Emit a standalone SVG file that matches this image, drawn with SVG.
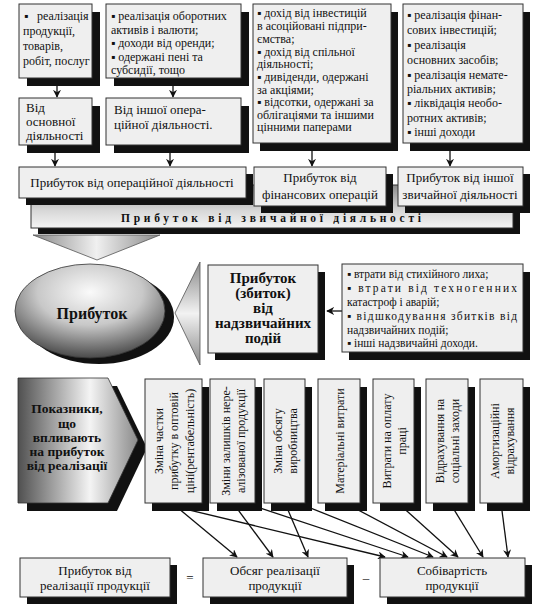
<svg xmlns="http://www.w3.org/2000/svg" width="536" height="609" viewBox="0 0 536 609">
<defs>
<style>
text{font-family:"Liberation Serif","Times New Roman",serif;fill:#111;}
.bx{fill:#efefef;stroke:#333;stroke-width:1;}
.sh{fill:#111;}
.t12{font-size:12px;}
.t13{font-size:13px;}
.c{text-anchor:middle;}
.b{font-weight:bold;}
.ln{stroke:#111;stroke-width:1.3;fill:none;marker-end:url(#ah);}
</style>
<marker id="ah" viewBox="0 0 10 10" refX="9" refY="5" markerWidth="8" markerHeight="8" markerUnits="userSpaceOnUse" orient="auto">
<path d="M0,0 L10,5 L0,10 L3,5 z" fill="#111"/>
</marker>
<linearGradient id="barG" x1="0" y1="0" x2="0" y2="1">
<stop offset="0" stop-color="#8c8c8c"/><stop offset="0.6" stop-color="#d8d8d8"/><stop offset="1" stop-color="#f4f4f4"/>
</linearGradient>
<linearGradient id="funG" x1="0" y1="0" x2="1" y2="0">
<stop offset="0" stop-color="#8a8a8a"/><stop offset="0.5" stop-color="#f0f0f0"/><stop offset="1" stop-color="#8a8a8a"/>
</linearGradient>
<radialGradient id="ellG" cx="0.5" cy="0.3" r="0.7">
<stop offset="0" stop-color="#fafafa"/><stop offset="0.5" stop-color="#c8c8c8"/><stop offset="1" stop-color="#4a4a4a"/>
</radialGradient>
<linearGradient id="triG" x1="0" y1="0" x2="0" y2="1">
<stop offset="0" stop-color="#8a8a8a"/><stop offset="0.5" stop-color="#f2f2f2"/><stop offset="1" stop-color="#8a8a8a"/>
</linearGradient>
<linearGradient id="penG" x1="0" y1="0" x2="1" y2="0">
<stop offset="0" stop-color="#505050"/><stop offset="0.6" stop-color="#f4f4f4"/><stop offset="1" stop-color="#8a8a8a"/>
</linearGradient>
</defs>
<rect width="536" height="609" fill="#fff"/>

<g id="connectors">
<line class="ln" x1="57" y1="78" x2="57" y2="97"/>
<line class="ln" x1="173" y1="78" x2="173" y2="97"/>
<line class="ln" x1="55" y1="145" x2="55" y2="166"/>
<line class="ln" x1="170" y1="145" x2="170" y2="166"/>
<line class="ln" x1="312" y1="143" x2="312" y2="166"/>
<line class="ln" x1="450" y1="143" x2="450" y2="166"/>
<line class="ln" x1="342" y1="311" x2="327" y2="311"/>
<line class="ln" x1="172" y1="503" x2="237" y2="557"/>
<line class="ln" x1="233" y1="503" x2="273" y2="557"/>
<line class="ln" x1="285" y1="503" x2="308" y2="557"/>
<line class="ln" x1="160" y1="503" x2="385" y2="557"/>
<line class="ln" x1="245" y1="503" x2="408" y2="557"/>
<line class="ln" x1="298" y1="503" x2="433" y2="557"/>
<line class="ln" x1="345" y1="503" x2="447" y2="557"/>
<line class="ln" x1="398" y1="503" x2="458" y2="557"/>
<line class="ln" x1="450" y1="503" x2="483" y2="557"/>
<line class="ln" x1="501" y1="503" x2="508" y2="557"/>
</g>

<g id="n-sales">
<rect class="sh" x="27" y="12" width="73" height="74"/>
<rect class="bx" x="19" y="4" width="73" height="74"/>
<text class="t12"><tspan x="24" y="20">▪</tspan><tspan x="37" y="20">реалізація</tspan><tspan x="23" y="35">продукції,</tspan><tspan x="23" y="50">товарів,</tspan><tspan x="23" y="65">робіт, послуг</tspan></text>
</g>
<g id="n-otherop-items">
<rect class="sh" x="114" y="12" width="135" height="74"/>
<rect class="bx" x="106" y="4" width="135" height="74"/>
<text class="t12"><tspan x="111" y="20">▪ реалізація оборотних</tspan><tspan x="111" y="33.5">активів і валюти;</tspan><tspan x="111" y="47">▪ доходи від оренди;</tspan><tspan x="111" y="60.5">▪ одержані пені та</tspan><tspan x="111" y="74">субсидії, тощо</tspan></text>
</g>
<g id="n-fin-items">
<rect class="sh" x="260" y="12" width="138" height="139"/>
<rect class="bx" x="253" y="4" width="138" height="139"/>
<text class="t12"><tspan x="257" y="17">▪ дохід від інвестицій</tspan><tspan x="257" y="30">в асоційовані підпри-</tspan><tspan x="257" y="43">ємства;</tspan><tspan x="257" y="55.5">▪ дохід від спільної</tspan><tspan x="257" y="68">діяльності;</tspan><tspan x="257" y="81">▪ дивіденди, одержані</tspan><tspan x="257" y="93.5">за акціями;</tspan><tspan x="257" y="106">▪ відсотки, одержані за</tspan><tspan x="257" y="118.5">облігаціями та іншими</tspan><tspan x="257" y="131">цінними паперами</tspan></text>
</g>
<g id="n-other-items">
<rect class="sh" x="410" y="12" width="120" height="139"/>
<rect class="bx" x="403" y="4" width="120" height="139"/>
<text class="t12"><tspan x="407" y="19">▪ реалізація фінан-</tspan><tspan x="407" y="34">сових інвестицій;</tspan><tspan x="407" y="49">▪ реалізація</tspan><tspan x="407" y="64">основних засобів;</tspan><tspan x="407" y="78.5">▪ реалізація немате-</tspan><tspan x="407" y="93">ріальних активів;</tspan><tspan x="407" y="107">▪ ліквідація необо-</tspan><tspan x="407" y="121.5">ротних активів;</tspan><tspan x="407" y="136">▪ інші доходи</tspan></text>
</g>

<g id="n-main">
<rect class="sh" x="27" y="106" width="73" height="47"/>
<rect class="bx" x="19" y="98" width="73" height="47"/>
<text class="t13"><tspan x="26" y="112">Від</tspan><tspan x="26" y="126">основної</tspan><tspan x="26" y="140">діяльності</tspan></text>
</g>
<g id="n-otherop">
<rect class="sh" x="114" y="106" width="135" height="47"/>
<rect class="bx" x="106" y="98" width="135" height="47"/>
<text class="t13"><tspan x="114" y="114">Від іншої опера-</tspan><tspan x="114" y="129">ційної діяльності.</tspan></text>
</g>

<g id="n-ordinary">
<rect class="sh" x="38" y="191" width="482" height="43"/>
<rect x="31" y="185" width="482" height="43" fill="url(#barG)" stroke="#333" stroke-width="1"/>
<text class="b c" x="271" y="222" font-size="11.5" textLength="300" lengthAdjust="spacing">Прибуток від звичайної діяльності</text>
</g>

<g id="n-op">
<rect class="sh" x="26" y="174" width="227" height="31"/>
<rect class="bx" x="19" y="167" width="227" height="31"/>
<text class="t13 c" x="132" y="187">Прибуток від операційної діяльності</text>
</g>
<g id="n-fin">
<rect class="sh" x="261" y="174" width="132" height="39"/>
<rect class="bx" x="254" y="167" width="132" height="39"/>
<text class="t13 c"><tspan x="320" y="182">Прибуток від</tspan><tspan x="320" y="199">фінансових операцій</tspan></text>
</g>
<g id="n-otherord">
<rect class="sh" x="405" y="174" width="125" height="39"/>
<rect class="bx" x="398" y="167" width="125" height="39"/>
<text class="t13 c"><tspan x="460" y="182">Прибуток від іншої</tspan><tspan x="460" y="199">звичайної діяльності</tspan></text>
</g>

<g id="n-funnel">
<polygon points="33,235 160,235 97,260" fill="url(#funG)" stroke="#555" stroke-width="0.8"/>
</g>

<g id="n-profit">
<ellipse cx="99" cy="317" rx="75" ry="47" fill="#111"/>
<ellipse cx="90" cy="311" rx="75" ry="47" fill="url(#ellG)" stroke="#333" stroke-width="0.8"/>
<text class="b c" x="92" y="319" font-size="16">Прибуток</text>
</g>

<g id="n-pointer">
<polygon points="175,313 200,262 200,365" fill="url(#triG)" stroke="#555" stroke-width="0.8"/>
</g>

<g id="n-extra">
<rect class="sh" x="215" y="272" width="110" height="88"/>
<rect class="bx" x="208" y="265" width="110" height="88"/>
<text class="b c" font-size="15"><tspan x="263" y="283">Прибуток</tspan><tspan x="263" y="298">(збиток)</tspan><tspan x="263" y="313">від</tspan><tspan x="263" y="328">надзвичайних</tspan><tspan x="263" y="343">подій</tspan></text>
</g>

<g id="n-extra-items">
<rect class="sh" x="349" y="272" width="181" height="88"/>
<rect class="bx" x="342" y="264" width="181" height="88"/>
<text font-size="11.5"><tspan x="347" y="278">▪ втрати від стихійного лиха;</tspan></text>
<text font-size="11.5" x="347" y="292" textLength="170" lengthAdjust="spacing">▪ втрати від техногенних</text>
<text font-size="11.5" x="347" y="305.5">катастроф і аварій;</text>
<text font-size="11.5" x="347" y="320" textLength="170" lengthAdjust="spacing">▪ відшкодування збитків від</text>
<text font-size="11.5" x="347" y="333.5">надзвичайних подій;</text>
<text font-size="11.5" x="347" y="347">▪ інші надзвичайні доходи.</text>
</g>

<g id="n-factors">
<polygon points="27,386 117,386 147,448 117,511 27,511" fill="#111"/>
<polygon points="18,378 108,378 138,440 108,503 18,503" fill="url(#penG)" stroke="#333" stroke-width="0.8"/>
<text class="b c" font-size="13.5"><tspan x="67" y="413">Показники,</tspan><tspan x="67" y="428">що</tspan><tspan x="67" y="442">впливають</tspan><tspan x="67" y="456">на прибуток</tspan><tspan x="67" y="470">від реалізації</tspan></text>
</g>

<g id="f1">
<rect class="sh" x="152" y="387" width="57" height="124"/>
<rect class="bx" x="145" y="379" width="57" height="124"/>
<g transform="translate(173.5,441) rotate(-90)"><text class="t12 c" x="0" y="-11">Зміна частки</text><text class="t12 c" x="0" y="4.5">прибутку в оптовій</text><text class="t12 c" x="0" y="20">ціні(рентабельність)</text></g>
</g>
<g id="f2">
<rect class="sh" x="217" y="387" width="45" height="124"/>
<rect class="bx" x="210" y="379" width="45" height="124"/>
<g transform="translate(232.5,441) rotate(-90)"><text class="t12 c" x="0" y="-3">Зміни залишків нере-</text><text class="t12 c" x="0" y="12">алізованої продукції</text></g>
</g>
<g id="f3">
<rect class="sh" x="271" y="387" width="41" height="124"/>
<rect class="bx" x="264" y="379" width="41" height="124"/>
<g transform="translate(284.5,441) rotate(-90)"><text class="t12 c" x="0" y="-3">Зміна обсягу</text><text class="t12 c" x="0" y="12">виробництва</text></g>
</g>
<g id="f4">
<rect class="sh" x="325" y="387" width="42" height="124"/>
<rect class="bx" x="318" y="379" width="42" height="124"/>
<g transform="translate(339,441) rotate(-90)"><text class="t12 c" x="0" y="4.5">Матеріальні витрати</text></g>
</g>
<g id="f5">
<rect class="sh" x="380" y="387" width="41" height="124"/>
<rect class="bx" x="373" y="379" width="41" height="124"/>
<g transform="translate(393.5,441) rotate(-90)"><text class="t12 c" x="0" y="-3">Витрати на оплату</text><text class="t12 c" x="0" y="12">праці</text></g>
</g>
<g id="f6">
<rect class="sh" x="433" y="387" width="42" height="124"/>
<rect class="bx" x="426" y="379" width="42" height="124"/>
<g transform="translate(447,441) rotate(-90)"><text class="t12 c" x="0" y="-3">Відрахування на</text><text class="t12 c" x="0" y="12">соціальні заходи</text></g>
</g>
<g id="f7">
<rect class="sh" x="487" y="387" width="43" height="124"/>
<rect class="bx" x="480" y="379" width="43" height="124"/>
<g transform="translate(501.5,441) rotate(-90)"><text class="t12 c" x="0" y="-3">Амортизаційні</text><text class="t12 c" x="0" y="12">відрахування</text></g>
</g>

<g id="n-salesprofit">
<rect class="sh" x="27" y="565" width="150" height="39"/>
<rect class="bx" x="20" y="558" width="150" height="39"/>
<text class="t13 c"><tspan x="95" y="575">Прибуток від</tspan><tspan x="95" y="590">реалізації продукції</tspan></text>
</g>
<text class="t13 c" x="190" y="582">=</text>
<g id="n-volume">
<rect class="sh" x="210" y="565" width="144" height="39"/>
<rect class="bx" x="203" y="558" width="144" height="39"/>
<text class="t13 c"><tspan x="275" y="575">Обсяг реалізації</tspan><tspan x="275" y="590">продукції</tspan></text>
</g>
<text class="t13 c" x="366" y="582">–</text>
<g id="n-cost">
<rect class="sh" x="387" y="565" width="145" height="39"/>
<rect class="bx" x="380" y="558" width="145" height="39"/>
<text class="t13 c"><tspan x="452" y="575">Собівартість</tspan><tspan x="452" y="590">продукції</tspan></text>
</g>
</svg>
